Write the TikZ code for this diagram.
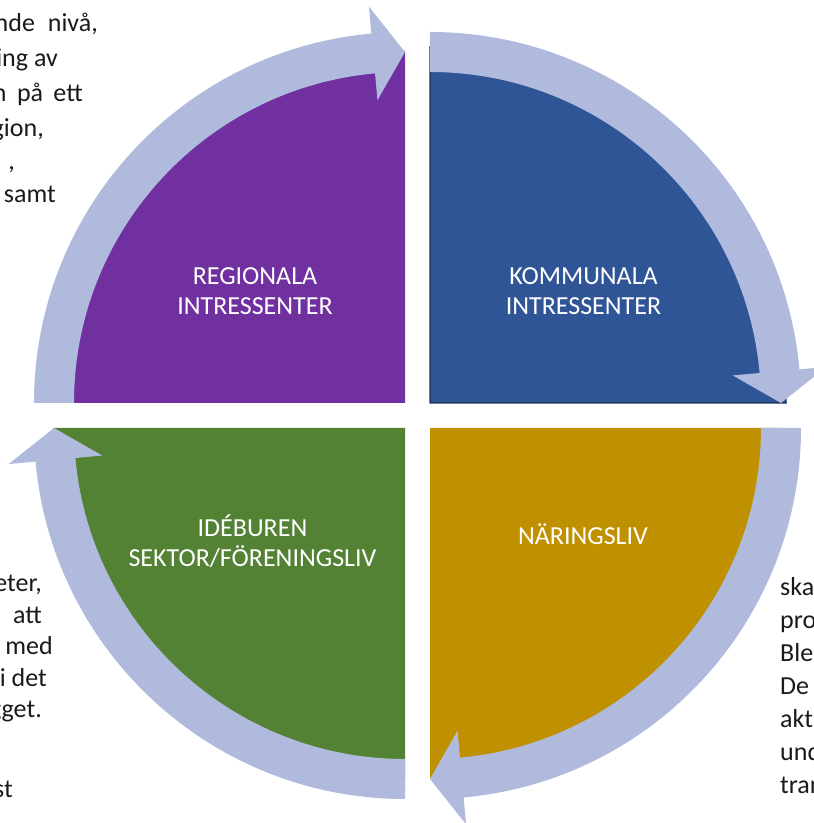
\documentclass[tikz,border=0pt]{standalone}
\usepackage{fontspec}
\setmainfont{Carlito}
\usepackage{tikz}
\definecolor{bandblue}{HTML}{AFBADD}
\definecolor{regpurple}{HTML}{7030A0}
\definecolor{komblue}{HTML}{2F5597}
\definecolor{komline}{HTML}{1F3864}
\definecolor{nargold}{HTML}{BF9000}
\definecolor{idegreen}{HTML}{548235}
\definecolor{bodytext}{HTML}{1A1A1A}

\begin{document}
\begin{tikzpicture}[x=1pt,y=1pt,
   band/.style={fill=bandblue},
   quadlabel/.style={text=white,align=center,inner sep=0pt,font=\fontsize{26}{30}\selectfont},
   cuttext/.style={text=bodytext,inner sep=0pt,font=\fontsize{26}{31}\selectfont}]
   \useasboundingbox (0,0) rectangle (814,823);

   \draw (98,791) node[cuttext,anchor=base east] (tl1) {nde\hspace{7pt} nivå,};
   \draw (58,756) node[cuttext,anchor=base east] (tl2) {ing av};
   \draw (83,721) node[cuttext,anchor=base east] (tl3) {n\hspace{4.5pt} på\hspace{4.5pt} ett};
   \draw (44,686) node[cuttext,anchor=base east] (tl4) {gion,};
   \draw (15,653) node[cuttext,anchor=base east] (tl5) {,};
   \draw (56,620) node[cuttext,anchor=base east] (tl6) {samt};

   \draw (42,231) node[cuttext,anchor=base east] (bl1) {eter,};
   \draw (42,199.5) node[cuttext,anchor=base east] (bl2) {att};
   \draw (53,168) node[cuttext,anchor=base east] (bl3) {med};
   \draw (47,136.5) node[cuttext,anchor=base east] (bl4) {i det};
   \draw (42,105) node[cuttext,anchor=base east] (bl5) {gget.};
   \draw (13,26) node[cuttext,anchor=base east] (bl6) {st};

   \draw (780,227) node[cuttext,anchor=base west] (r1) {ska};
   \draw (780,194) node[cuttext,anchor=base west] (r2) {pro};
   \draw (780,161) node[cuttext,anchor=base west] (r3) {Ble};
   \draw (780,128) node[cuttext,anchor=base west] (r4) {De};
   \draw (780,95) node[cuttext,anchor=base west] (r5) {akt};
   \draw (780,62) node[cuttext,anchor=base west] (r6) {und};
   \draw (780,29) node[cuttext,anchor=base west] (r7) {tran};

   \fill[regpurple,shift={(405,420)}] (0,0) -- (180:352pt) arc[start angle=180,end angle=90,radius=352pt] -- cycle;
   \filldraw[fill=komblue,draw=komline,line width=1.5pt,shift={(430,420)}] (0,0) -- (0:356pt) arc[start angle=0,end angle=90,radius=356pt] -- cycle;
   \fill[nargold,shift={(430,395)}] (0,0) -- (270:350pt) arc[start angle=270,end angle=360,radius=350pt] -- cycle;
   \fill[idegreen,shift={(405,395)}] (0,0) -- (180:352pt) arc[start angle=180,end angle=270,radius=352pt] -- cycle;

   \fill[band,shift={(405,420)}] (180:331pt) -- (180:371pt) arc[start angle=180,end angle=95.2,radius=371pt] -- (95.2:398pt) -- (90:351pt) -- (95.2:304pt) -- (95.2:331pt) arc[start angle=95.2,end angle=180,radius=331pt] -- cycle;
   \fill[band,shift={(430,420)},rotate=-90] (180:331pt) -- (180:371pt) arc[start angle=180,end angle=95.2,radius=371pt] -- (95.2:398pt) -- (90:351pt) -- (95.2:304pt) -- (95.2:331pt) arc[start angle=95.2,end angle=180,radius=331pt] -- cycle;
   \fill[band,shift={(430,395)},rotate=-180] (180:331pt) -- (180:371pt) arc[start angle=180,end angle=95.2,radius=371pt] -- (95.2:398pt) -- (90:351pt) -- (95.2:304pt) -- (95.2:331pt) arc[start angle=95.2,end angle=180,radius=331pt] -- cycle;
   \fill[band,shift={(405,395)},rotate=-270] (180:331pt) -- (180:371pt) arc[start angle=180,end angle=95.2,radius=371pt] -- (95.2:398pt) -- (90:351pt) -- (95.2:304pt) -- (95.2:331pt) arc[start angle=95.2,end angle=180,radius=331pt] -- cycle;

   \draw (255,532) node[quadlabel] (regional) {REGIONALA\\INTRESSENTER};
   \draw (583.5,532) node[quadlabel] (kommunal) {KOMMUNALA\\INTRESSENTER};
   \draw (252.5,282) node[quadlabel] (ideburen) {IDÉBUREN\\SEKTOR/FÖRENINGSLIV};
   \draw (583,289) node[quadlabel] (naringsliv) {NÄRINGSLIV};
\end{tikzpicture}
\end{document}
